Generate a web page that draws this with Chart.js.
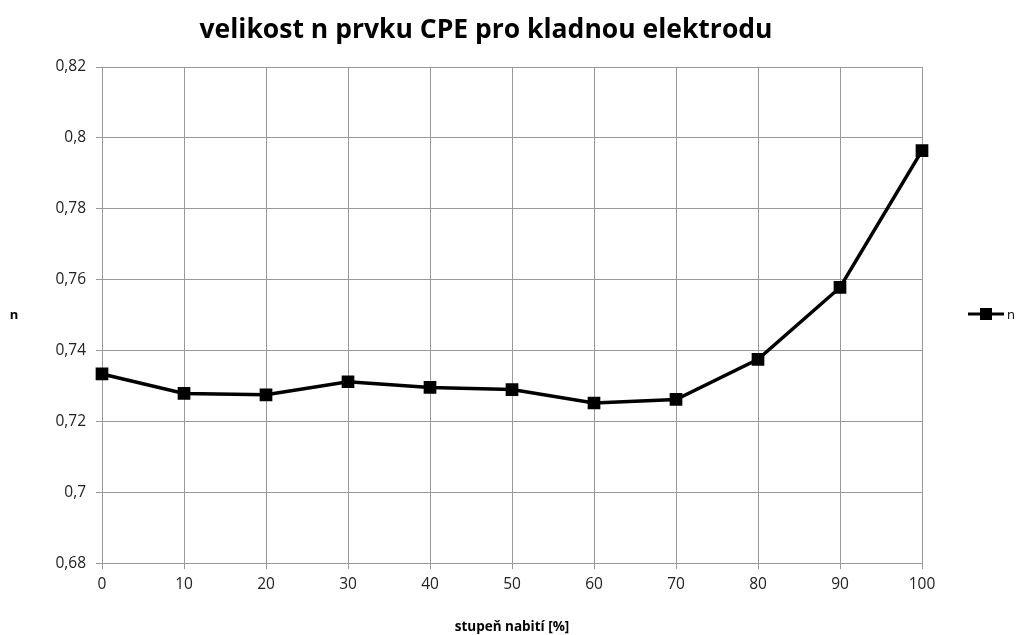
<!DOCTYPE html>
<html>
<head>
<meta charset="utf-8">
<script src="https://cdn.jsdelivr.net/npm/chart.js@4"></script>
<style>
  html, body { margin: 0; padding: 0; background: #fff; }
  #wrap { width: 1018px; height: 635px; }
</style>
</head>
<body>
<div id="wrap"><canvas id="grafN" width="1018" height="635"></canvas></div>
<script>
const stupenNabiti = [0, 10, 20, 30, 40, 50, 60, 70, 80, 90, 100];
const hodnotyN = [0.7334, 0.7279, 0.7275, 0.7312, 0.7296, 0.7290, 0.7252, 0.7262, 0.7375, 0.7578, 0.7964];
const nazevGrafu = 'velikost n prvku CPE pro kladnou elektrodu';
const popisX = 'stupeň nabití [%]';
const popisY = 'n';
const nazevRady = 'n';

const FONT = "'Open Sans', 'Noto Sans', sans-serif";

// nadpis, popisek osy y (vodorovně) a legenda vpravo
const doplnky = {
  id: 'doplnky',
  afterDraw(chart) {
    const ctx = chart.ctx;
    const area = chart.chartArea;
    const stred = (area.top + area.bottom) / 2;
    ctx.save();
    ctx.fillStyle = '#000';
    ctx.textAlign = 'center';
    ctx.textBaseline = 'middle';
    ctx.font = 'bold 26.5px ' + FONT;
    ctx.fillText(nazevGrafu, 486, 30);

    ctx.font = 'bold 13px ' + FONT;
    ctx.fillText(popisY, 14, stred);

    // legenda: čára se čtverečkem
    const lx = 968, ly = 314;
    ctx.strokeStyle = '#000';
    ctx.lineWidth = 3;
    ctx.beginPath();
    ctx.moveTo(lx, ly);
    ctx.lineTo(lx + 36, ly);
    ctx.stroke();
    ctx.fillRect(lx + 12, ly - 6, 12, 12);
    ctx.font = '13px ' + FONT;
    ctx.textAlign = 'left';
    ctx.fillText(nazevRady, lx + 39, ly + 1);
    ctx.restore();
  }
};

new Chart(document.getElementById('grafN').getContext('2d'), {
  type: 'line',
  data: {
    datasets: [{
      label: nazevRady,
      data: stupenNabiti.map((x, i) => ({ x: x, y: hodnotyN[i] })),
      borderColor: '#000',
      backgroundColor: '#000',
      borderWidth: 3.5,
      pointStyle: 'rect',
      pointRadius: 6.5,
      pointHoverRadius: 6.5,
      tension: 0,
      clip: false,
      fill: false
    }]
  },
  options: {
    responsive: false,
    animation: false,
    layout: { padding: { left: 0, right: 96, top: 67, bottom: 0 } },
    plugins: {
      legend: { display: false },
      tooltip: { enabled: false }
    },
    scales: {
      x: {
        type: 'linear',
        min: 0,
        max: 100,
        ticks: {
          stepSize: 10,
          color: '#222',
          font: { family: FONT, size: 15.5 },
          padding: 6
        },
        grid: { color: '#999', lineWidth: 1, tickLength: 6 },
        border: { color: '#999' },
        title: {
          display: true,
          text: popisX,
          color: '#000',
          font: { family: FONT, size: 13.5, weight: 'bold' },
          padding: { top: 19, bottom: 0 }
        }
      },
      y: {
        min: 0.68,
        max: 0.82,
        ticks: {
          stepSize: 0.02,
          color: '#222',
          font: { family: FONT, size: 15.5 },
          padding: 10,
          callback: v => (Math.round(v * 100) / 100).toString().replace('.', ',')
        },
        grid: { color: '#999', lineWidth: 1, tickLength: 6 },
        border: { color: '#999' },
        afterFit(scale) { scale.width = 102; }
      }
    }
  },
  plugins: [doplnky]
});
</script>
</body>
</html>
